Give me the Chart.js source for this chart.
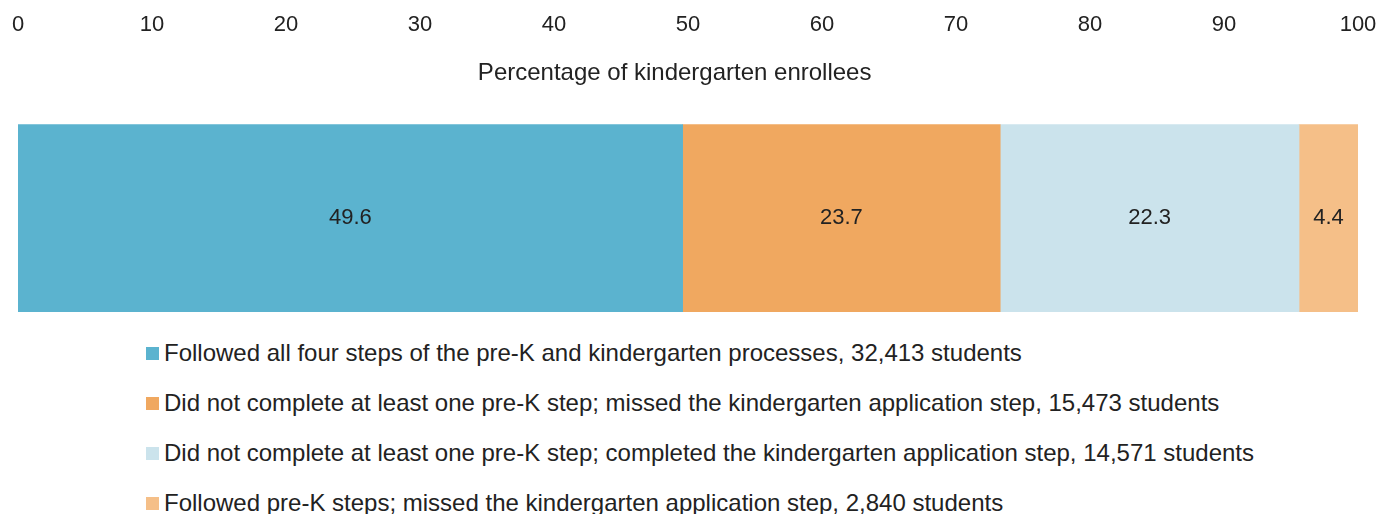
<!DOCTYPE html>
<html>
<head>
<meta charset="utf-8">
<script src="https://cdn.jsdelivr.net/npm/chart.js@4"></script>
<style>
  body { margin: 0; background: #fff; overflow: hidden; font-family: "Liberation Sans", Arial, sans-serif; }
  .chart-box { position: relative; width: 1380px; height: 330px; }
  .legend { list-style: none; margin: -2px 0 0 0; padding: 0 0 0 146px; color: #222; font-size: 24px; }
  .legend li { height: 50px; display: flex; align-items: center; white-space: nowrap; }
  .legend .swatch { width: 13px; height: 13px; margin-right: 5px; flex: none; }
</style>
</head>
<body>
<div class="chart-box"><canvas id="chart"></canvas></div>
<ul class="legend"></ul>
<script>
// data
const categories = [""];
const seriesNames = [
  "Followed all four steps of the pre-K and kindergarten processes, 32,413 students",
  "Did not complete at least one pre-K step; missed the kindergarten application step, 15,473 students",
  "Did not complete at least one pre-K step; completed the kindergarten application step, 14,571 students",
  "Followed pre-K steps; missed the kindergarten application step, 2,840 students"
];
const seriesValues = [49.6, 23.7, 22.3, 4.4];
const seriesColors = ["#5bb3cf", "#f0a860", "#cbe3ec", "#f5bf88"];
const tickValues = [0, 10, 20, 30, 40, 50, 60, 70, 80, 90, 100];
const axisTitle = "Percentage of kindergarten enrollees";

const textColor = "#222";
const fontFamily = '"Liberation Sans", Arial, sans-serif';

// write the value in the middle of each bar piece
const barLabels = {
  id: "barLabels",
  afterDatasetsDraw(chart) {
    const ctx = chart.ctx;
    ctx.save();
    ctx.font = "22px " + fontFamily;
    ctx.fillStyle = textColor;
    ctx.textAlign = "center";
    ctx.textBaseline = "middle";
    chart.data.datasets.forEach((ds, i) => {
      chart.getDatasetMeta(i).data.forEach((bar, j) => {
        const p = bar.getCenterPoint();
        ctx.fillText(ds.data[j].toFixed(1), p.x, p.y);
      });
    });
    ctx.restore();
  }
};

const chart = new Chart(document.getElementById("chart"), {
  type: "bar",
  data: {
    labels: categories,
    datasets: seriesNames.map((name, i) => ({
      label: name,
      data: [seriesValues[i]],
      backgroundColor: seriesColors[i],
      borderWidth: 0,
      categoryPercentage: 1,
      barPercentage: 1
    }))
  },
  options: {
    indexAxis: "y",
    responsive: true,
    maintainAspectRatio: false,
    animation: false,
    layout: { padding: { top: 9, left: 18, right: 22, bottom: 18 } },
    plugins: {
      legend: { display: false },
      tooltip: { enabled: false }
    },
    scales: {
      x: {
        type: "linear",
        position: "top",
        stacked: true,
        min: 0,
        max: 100,
        weight: 2,
        afterBuildTicks: s => { s.ticks = tickValues.map(v => ({ value: v })); },
        grid: { display: false, drawTicks: false },
        border: { display: false },
        ticks: { color: textColor, padding: 3, font: { size: 22, family: fontFamily } }
      },
      // second top axis only to put the title under the tick labels
      x2: {
        type: "linear",
        position: "top",
        min: 0,
        max: 100,
        weight: 1,
        grid: { display: false, drawTicks: false },
        border: { display: false },
        ticks: { display: false },
        title: {
          display: true,
          // trailing spaces nudge the title a bit left, like the original
          text: axisTitle + "\u00a0\u00a0\u00a0\u00a0",
          color: textColor,
          padding: { top: 18, bottom: 36 },
          font: { size: 24, family: fontFamily }
        }
      },
      y: {
        stacked: true,
        display: false
      }
    }
  },
  plugins: [barLabels]
});

// legend under the chart
const ul = document.querySelector(".legend");
seriesNames.forEach((name, i) => {
  const li = document.createElement("li");
  li.innerHTML = `<span class="swatch" style="background:${seriesColors[i]}"></span><span>${name}</span>`;
  ul.appendChild(li);
});
</script>
</body>
</html>
